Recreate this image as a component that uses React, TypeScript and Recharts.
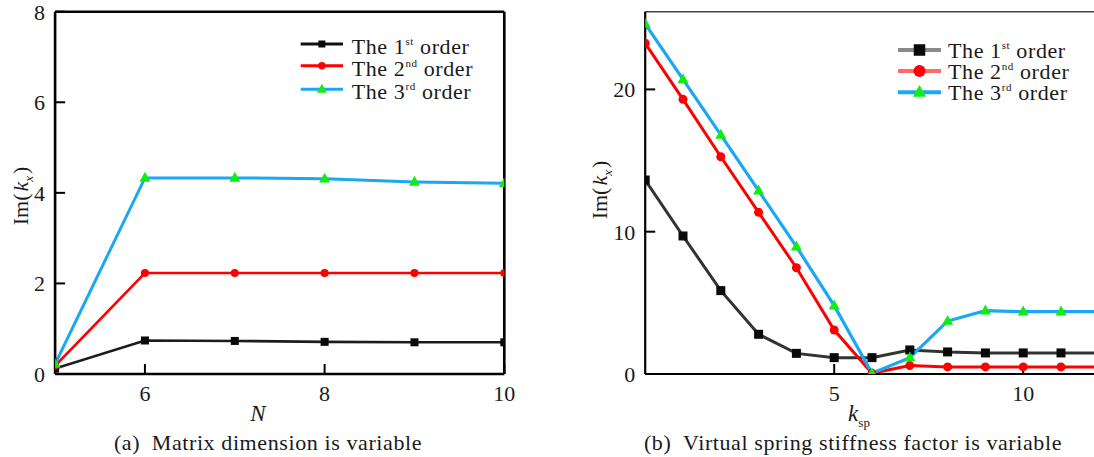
import React from 'react';
import { LineChart, Line, XAxis, YAxis, ReferenceLine, Legend } from 'recharts';

const FONT = '"Liberation Serif", "Times New Roman", serif';

// ---------- Chart (a): matrix dimension N ----------
const matrixDims = [5, 6, 7, 8, 9, 10];
const aOrder1 = [0.12, 0.74, 0.73, 0.71, 0.7, 0.7];
const aOrder2 = [0.18, 2.23, 2.23, 2.23, 2.23, 2.23];
const aOrder3 = [0.22, 4.33, 4.33, 4.31, 4.24, 4.21];
const aXTicks = [6, 8, 10];
const aYTicks = [0, 2, 4, 6, 8];

// ---------- Chart (b): virtual spring stiffness factor k_sp ----------
const kspValues = [0, 1, 2, 3, 4, 5, 6, 7, 8, 9, 10, 11, 12];
const bOrder1 = [13.63, 9.7, 5.86, 2.79, 1.45, 1.15, 1.15, 1.69, 1.55, 1.48, 1.48, 1.48, 1.48];
const bOrder2 = [23.24, 19.3, 15.27, 11.36, 7.47, 3.09, 0.05, 0.59, 0.5, 0.5, 0.5, 0.5, 0.5];
const bOrder3 = [24.6, 20.7, 16.8, 12.88, 8.95, 4.8, 0.05, 1.15, 3.72, 4.45, 4.38, 4.38, 4.38];
const bXTicks = [5, 10];
const bYTicks = [0, 10, 20];

const orderNumbers = ['1', '2', '3'];
const orderSuffixes = ['st', 'nd', 'rd'];
const seriesKeys = ['o1', 'o2', 'o3'];
const seriesNames = ['The 1st order', 'The 2nd order', 'The 3rd order'];

const dataA = matrixDims.map((n, i) => ({ n, o1: aOrder1[i], o2: aOrder2[i], o3: aOrder3[i] }));
const dataB = kspValues.map((k, i) => ({ k, o1: bOrder1[i], o2: bOrder2[i], o3: bOrder3[i] }));

type Shape = 'square' | 'circle' | 'triangle';
const shapes: Shape[] = ['square', 'circle', 'triangle'];
const markerFill = ['#0a0a0a', '#ff0000', '#10ee10'];
const BLUE = '#1aa8f4';

function Marker({ shape, cx, cy, size, fill }: { shape: Shape; cx: number; cy: number; size: number; fill: string }) {
  if (cx == null || cy == null || isNaN(cx) || isNaN(cy)) return null;
  if (shape === 'square') return <rect x={cx - size / 2} y={cy - size / 2} width={size} height={size} fill={fill} />;
  if (shape === 'circle') return <circle cx={cx} cy={cy} r={size / 2} fill={fill} />;
  const h = size * 0.9;
  return (
    <polygon
      points={`${cx},${cy - h * 0.62} ${cx + size / 2},${cy + h * 0.38} ${cx - size / 2},${cy + h * 0.38}`}
      fill={fill}
    />
  );
}

const dotRenderer = (shape: Shape, size: number, fill: string) => (p: any) => (
  <Marker key={`m-${shape}-${p.index}`} shape={shape} cx={p.cx} cy={p.cy} size={size} fill={fill} />
);

type LegendCfg = {
  rowYs: number[];
  lineX1: number;
  lineX2: number;
  textX: number;
  baseOff: number;
  lineColors: string[];
  lineWidth: number;
  markerSizes: number[];
};

const makeLegend = (cfg: LegendCfg) => (props: any) => {
  const payload = props.payload || [];
  return (
    <svg width={220} height={90} style={{ overflow: 'visible', display: 'block' }}>
      {payload.map((entry: any, i: number) => {
        const y = cfg.rowYs[i];
        const mx = (cfg.lineX1 + cfg.lineX2) / 2;
        return (
          <g key={`lg-${i}`}>
            <line x1={cfg.lineX1} x2={cfg.lineX2} y1={y} y2={y} stroke={cfg.lineColors[i]} strokeWidth={cfg.lineWidth} />
            <Marker shape={shapes[i]} cx={mx} cy={y} size={cfg.markerSizes[i]} fill={markerFill[i]} />
            <text x={cfg.textX} y={y + cfg.baseOff} fontFamily={FONT} fontSize={22} fill="#1a1a1a" letterSpacing={0.6}>
              The {orderNumbers[i]}
              <tspan fontSize={11} dy={-9}>{orderSuffixes[i]}</tspan>
              <tspan dy={9}> order</tspan>
            </text>
          </g>
        );
      })}
    </svg>
  );
};

const legendA = makeLegend({
  rowYs: [14, 35.7, 59.3],
  lineX1: 5.7,
  lineX2: 48,
  textX: 56.7,
  baseOff: 10,
  lineColors: ['#111111', '#ff0000', BLUE],
  lineWidth: 3,
  markerSizes: [7, 7.5, 10],
});

const legendB = makeLegend({
  rowYs: [14, 35, 56.3],
  lineX1: 5,
  lineX2: 48,
  textX: 55,
  baseOff: 8,
  lineColors: ['#8a8a8a', '#ff6a6a', BLUE],
  lineWidth: 4,
  markerSizes: [11.5, 12, 13],
});

const tickStyle = { fontSize: 22, fontFamily: FONT, fill: '#1a1a1a' };

function YTitle({ x, y }: { x: number; y: number }) {
  return (
    <text x={x} y={y} transform={`rotate(-90, ${x}, ${y})`} textAnchor="middle" fontFamily={FONT} fontSize={22} fill="#1a1a1a">
      Im(
      <tspan fontStyle="italic" dx={2}>k</tspan>
      <tspan fontStyle="italic" fontSize={13} dy={5}>x</tspan>
      <tspan dy={-5} dx={2}>)</tspan>
    </text>
  );
}

function XTitleA() {
  return (
    <g>
      <text x={258} y={421} textAnchor="middle" fontFamily={FONT} fontSize={23} fontStyle="italic" fill="#1a1a1a">
        N
      </text>
      <text x={268} y={450} textAnchor="middle" fontFamily={FONT} fontSize={22} letterSpacing={0.6} fill="#1a1a1a">
        (a){'\u2002'}Matrix dimension is variable
      </text>
    </g>
  );
}

function XTitleB() {
  return (
    <g>
      <text x={299} y={421} textAnchor="middle" fontFamily={FONT} fontSize={23} fill="#1a1a1a">
        <tspan fontStyle="italic">k</tspan>
        <tspan fontSize={13} dy={6}>sp</tspan>
      </text>
      <text x={293} y={450} textAnchor="middle" fontFamily={FONT} fontSize={22} letterSpacing={0.6} fill="#1a1a1a">
        (b){'\u2002'}Virtual spring stiffness factor is variable
      </text>
    </g>
  );
}

export default function App() {
  return (
    <div
      style={{
        position: 'fixed',
        left: 0,
        top: 0,
        width: 1094,
        height: 457,
        overflow: 'hidden',
        background: '#fff',
      }}
    >
      <div style={{ position: 'absolute', left: 0, top: 0 }}>
        <LineChart width={540} height={457} data={dataA} margin={{ top: 11.7, right: 35.7, bottom: 43, left: 5.1 }}>
          <XAxis
            dataKey="n"
            type="number"
            domain={[5, 10]}
            ticks={aXTicks}
            interval={0}
            allowDataOverflow
            height={40}
            axisLine={{ stroke: '#000', strokeWidth: 2.6 }}
            tickLine={{ stroke: '#000', strokeWidth: 2 }}
            tickSize={-10}
            tickMargin={21}
            tick={tickStyle}
            label={{ content: () => <XTitleA /> }}
          />
          <YAxis
            type="number"
            domain={[0, 8]}
            ticks={aYTicks}
            interval={0}
            allowDataOverflow
            width={50}
            axisLine={{ stroke: '#000', strokeWidth: 2.6 }}
            tickLine={{ stroke: '#000', strokeWidth: 2 }}
            tickSize={-10}
            tickMargin={20}
            tick={tickStyle}
            label={{ content: () => <YTitle x={28} y={196} /> }}
          />
          <ReferenceLine y={8} stroke="#000" strokeWidth={2.6} />
          <ReferenceLine x={10} stroke="#000" strokeWidth={2.6} />
          <Legend
            layout="vertical"
            align="center"
            verticalAlign="middle"
            wrapperStyle={{ left: 295, top: 30, width: 220, height: 90 }}
            content={legendA}
          />
          <Line
            dataKey="o1"
            name={seriesNames[0]}
            stroke="#1c1c1c"
            strokeWidth={2.6}
            isAnimationActive={false}
            dot={dotRenderer('square', 8, markerFill[0])}
          />
          <Line
            dataKey="o2"
            name={seriesNames[1]}
            stroke="#ff0000"
            strokeWidth={2.6}
            isAnimationActive={false}
            dot={dotRenderer('circle', 8, markerFill[1])}
          />
          <Line
            dataKey="o3"
            name={seriesNames[2]}
            stroke={BLUE}
            strokeWidth={3}
            isAnimationActive={false}
            dot={dotRenderer('triangle', 11, markerFill[2])}
          />
        </LineChart>
      </div>
      <div style={{ position: 'absolute', left: 560, top: 0 }}>
        <LineChart width={560} height={457} data={dataB} margin={{ top: 11.7, right: 21.2, bottom: 43, left: 35.2 }}>
          <XAxis
            dataKey="k"
            type="number"
            domain={[0, 12]}
            ticks={bXTicks}
            interval={0}
            allowDataOverflow
            height={40}
            axisLine={{ stroke: '#000', strokeWidth: 2.2 }}
            tickLine={{ stroke: '#000', strokeWidth: 2 }}
            tickSize={-10}
            tickMargin={21}
            tick={tickStyle}
            label={{ content: () => <XTitleB /> }}
          />
          <YAxis
            type="number"
            domain={[0, 25.46]}
            ticks={bYTicks}
            interval={0}
            allowDataOverflow
            width={50}
            axisLine={{ stroke: '#000', strokeWidth: 2.2 }}
            tickLine={{ stroke: '#000', strokeWidth: 2 }}
            tickSize={-10}
            tickMargin={20}
            tick={tickStyle}
            label={{ content: () => <YTitle x={47} y={190} /> }}
          />
          <ReferenceLine y={25.46} stroke="#444" strokeWidth={1.6} />
          <Legend
            layout="vertical"
            align="center"
            verticalAlign="middle"
            wrapperStyle={{ left: 333, top: 36, width: 220, height: 90 }}
            content={legendB}
          />
          <Line
            dataKey="o1"
            name={seriesNames[0]}
            stroke="#333333"
            strokeWidth={3}
            isAnimationActive={false}
            dot={dotRenderer('square', 9, markerFill[0])}
          />
          <Line
            dataKey="o2"
            name={seriesNames[1]}
            stroke="#ff0000"
            strokeWidth={3}
            isAnimationActive={false}
            dot={dotRenderer('circle', 9, markerFill[1])}
          />
          <Line
            dataKey="o3"
            name={seriesNames[2]}
            stroke={BLUE}
            strokeWidth={3.2}
            isAnimationActive={false}
            dot={dotRenderer('triangle', 11, markerFill[2])}
          />
        </LineChart>
      </div>
    </div>
  );
}
